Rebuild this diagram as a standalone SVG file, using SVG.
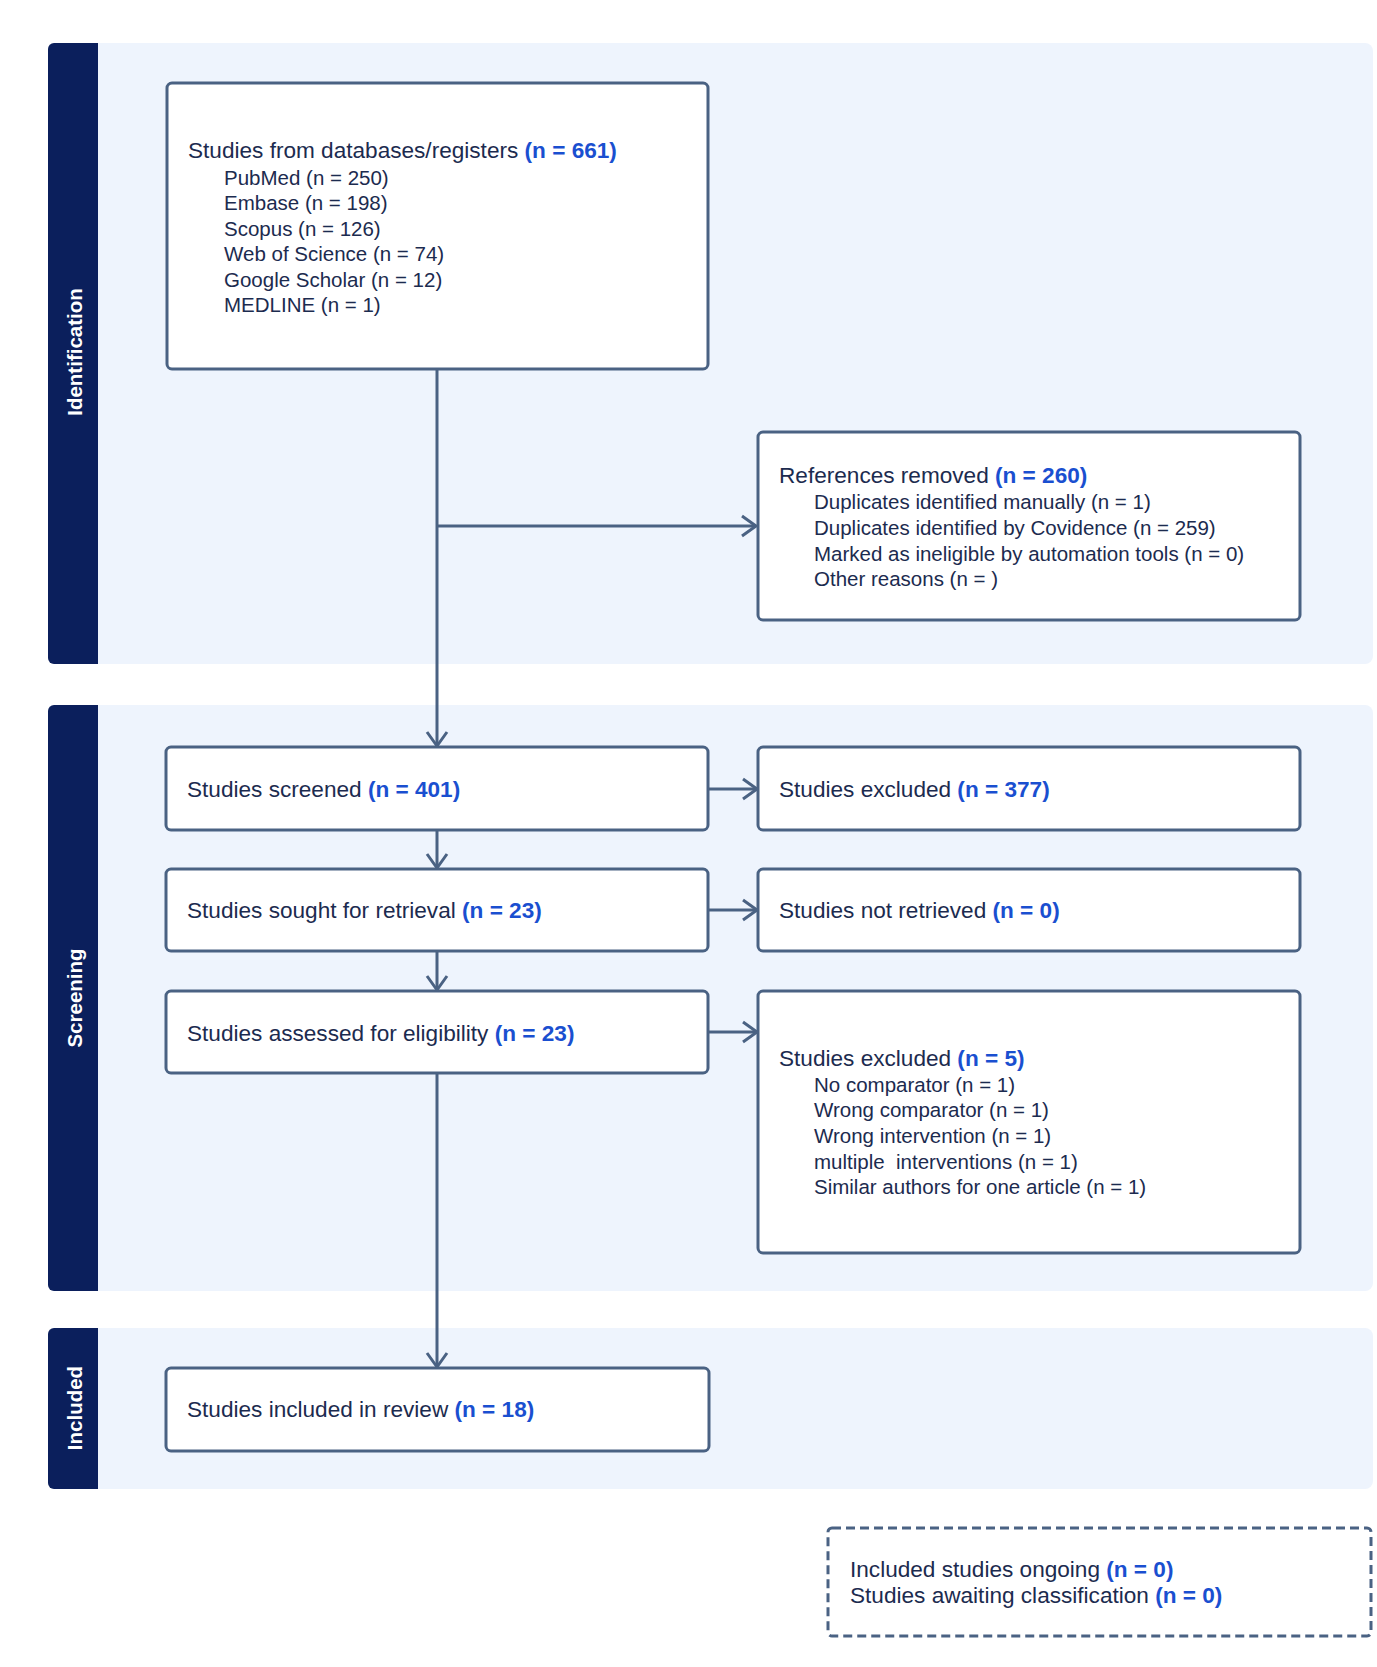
<svg xmlns="http://www.w3.org/2000/svg" width="1377" height="1667" viewBox="0 0 1377 1667">
<defs>
<style>
.band{fill:#eef4fd}
.bar{fill:#0b1f5c}
.lab{font-family:"Liberation Sans",Arial,sans-serif;font-weight:bold;font-size:20.5px;fill:#ffffff}
.box{fill:#ffffff;stroke:#4a6283;stroke-width:3}
.dash{fill:#ffffff;stroke:#4a6283;stroke-width:3;stroke-dasharray:9 5}
.t{font-family:"Liberation Sans",Arial,sans-serif;font-size:22.6px;fill:#1c2b4f}
.s{font-family:"Liberation Sans",Arial,sans-serif;font-size:20.5px;fill:#1c2b4f}
.n{font-weight:bold;fill:#1a4fd0}
.con{fill:none;stroke:#4a6283;stroke-width:3}
</style>
<marker id="arr" markerWidth="20" markerHeight="24" refX="17" refY="12" orient="auto" markerUnits="userSpaceOnUse" viewBox="0 0 20 24">
<path d="M3,2 L17,12 L3,22" fill="none" stroke="#4a6283" stroke-width="3"/>
</marker>
</defs>
<rect width="1377" height="1667" fill="#ffffff"/>

<g id="band-identification">
<rect class="band" x="48" y="43" width="1325" height="621" rx="8"/>
<path class="bar" d="M54,43 H98 V664 H54 A6,6 0 0 1 48,658 V49 A6,6 0 0 1 54,43 Z"/>
<text class="lab" text-anchor="middle" transform="translate(82,352) rotate(-90)">Identification</text>
</g>
<g id="band-screening">
<rect class="band" x="48" y="705" width="1325" height="586" rx="8"/>
<path class="bar" d="M54,705 H98 V1291 H54 A6,6 0 0 1 48,1285 V711 A6,6 0 0 1 54,705 Z"/>
<text class="lab" text-anchor="middle" transform="translate(82,998) rotate(-90)">Screening</text>
</g>
<g id="band-included">
<rect class="band" x="48" y="1328" width="1325" height="161" rx="8"/>
<path class="bar" d="M54,1328 H98 V1489 H54 A6,6 0 0 1 48,1483 V1334 A6,6 0 0 1 54,1328 Z"/>
<text class="lab" text-anchor="middle" transform="translate(82,1408) rotate(-90)">Included</text>
</g>

<g id="connectors">
<path class="con" d="M437,369 V746" marker-end="url(#arr)"/>
<path class="con" d="M437,526 H756" marker-end="url(#arr)"/>
<path class="con" d="M708,789 H757" marker-end="url(#arr)"/>
<path class="con" d="M437,830 V868" marker-end="url(#arr)"/>
<path class="con" d="M708,910 H757" marker-end="url(#arr)"/>
<path class="con" d="M437,951 V990" marker-end="url(#arr)"/>
<path class="con" d="M708,1032 H757" marker-end="url(#arr)"/>
<path class="con" d="M437,1073 V1367" marker-end="url(#arr)"/>
</g>

<g id="node-databases">
<rect class="box" x="167" y="83" width="541" height="286" rx="5"/>
<text class="t" x="188" y="158">Studies from databases/registers <tspan class="n">(n = 661)</tspan></text>
<text class="s" x="224" y="184.5">PubMed (n = 250)</text>
<text class="s" x="224" y="210">Embase (n = 198)</text>
<text class="s" x="224" y="235.5">Scopus (n = 126)</text>
<text class="s" x="224" y="261">Web of Science (n = 74)</text>
<text class="s" x="224" y="286.5">Google Scholar (n = 12)</text>
<text class="s" x="224" y="312">MEDLINE (n = 1)</text>
</g>

<g id="node-removed">
<rect class="box" x="758" y="432" width="542" height="188" rx="5"/>
<text class="t" x="779" y="483">References removed <tspan class="n">(n = 260)</tspan></text>
<text class="s" x="814" y="509">Duplicates identified manually (n = 1)</text>
<text class="s" x="814" y="535">Duplicates identified by Covidence (n = 259)</text>
<text class="s" x="814" y="560.5">Marked as ineligible by automation tools (n = 0)</text>
<text class="s" x="814" y="586">Other reasons (n = )</text>
</g>

<g id="node-screened">
<rect class="box" x="166" y="747" width="542" height="83" rx="5"/>
<text class="t" x="187" y="797">Studies screened <tspan class="n">(n = 401)</tspan></text>
</g>
<g id="node-excluded-377">
<rect class="box" x="758" y="747" width="542" height="83" rx="5"/>
<text class="t" x="779" y="797">Studies excluded <tspan class="n">(n = 377)</tspan></text>
</g>
<g id="node-sought">
<rect class="box" x="166" y="869" width="542" height="82" rx="5"/>
<text class="t" x="187" y="918">Studies sought for retrieval <tspan class="n">(n = 23)</tspan></text>
</g>
<g id="node-not-retrieved">
<rect class="box" x="758" y="869" width="542" height="82" rx="5"/>
<text class="t" x="779" y="918">Studies not retrieved <tspan class="n">(n = 0)</tspan></text>
</g>
<g id="node-assessed">
<rect class="box" x="166" y="991" width="542" height="82" rx="5"/>
<text class="t" x="187" y="1041">Studies assessed for eligibility <tspan class="n">(n = 23)</tspan></text>
</g>
<g id="node-excluded-5">
<rect class="box" x="758" y="991" width="542" height="262" rx="5"/>
<text class="t" x="779" y="1066">Studies excluded <tspan class="n">(n = 5)</tspan></text>
<text class="s" x="814" y="1091.5">No comparator (n = 1)</text>
<text class="s" x="814" y="1117">Wrong comparator (n = 1)</text>
<text class="s" x="814" y="1143">Wrong intervention (n = 1)</text>
<text class="s" x="814" y="1168.5" style="white-space:pre">multiple  interventions (n = 1)</text>
<text class="s" x="814" y="1194">Similar authors for one article (n = 1)</text>
</g>
<g id="node-included">
<rect class="box" x="166" y="1368" width="543" height="83" rx="5"/>
<text class="t" x="187" y="1417">Studies included in review <tspan class="n">(n = 18)</tspan></text>
</g>
<g id="node-ongoing">
<rect class="dash" x="828" y="1528" width="543" height="108" rx="4"/>
<text class="t" x="850" y="1577">Included studies ongoing <tspan class="n">(n = 0)</tspan></text>
<text class="t" x="850" y="1603">Studies awaiting classification <tspan class="n">(n = 0)</tspan></text>
</g>
</svg>
